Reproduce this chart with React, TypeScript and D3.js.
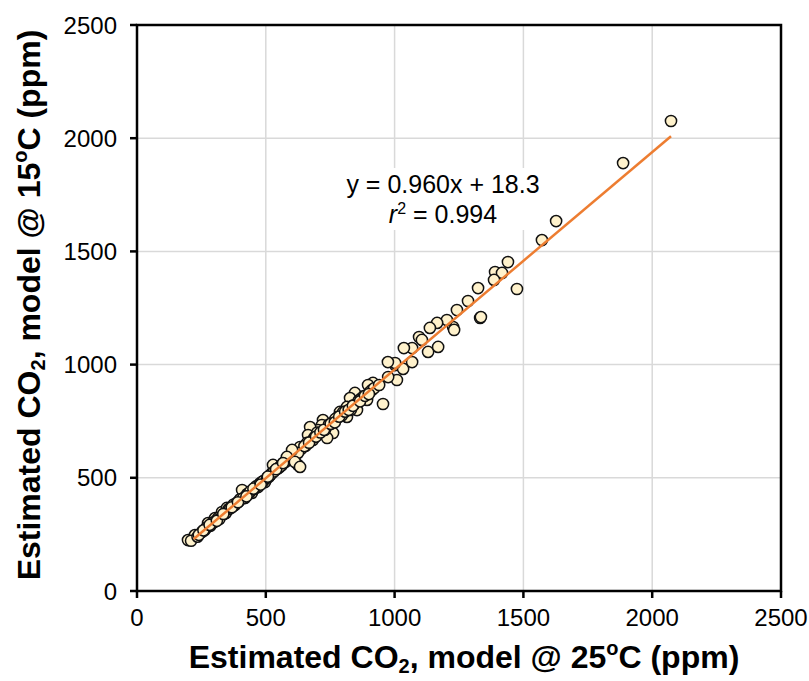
import React from "react";
import * as d3 from "d3";

const xTicks = [0, 500, 1000, 1500, 2000, 2500];
const yTicks = [0, 500, 1000, 1500, 2000, 2500];

// Estimated CO2, model @ 25°C (ppm)
const co2At25 = [
  198, 225, 252, 276, 303, 330, 349, 380, 408, 419, 446, 470, 497, 524, 536, 528, 563, 586, 613, 625, 644,
  210, 235, 240, 262, 270, 285, 292, 300, 315, 320, 338, 345, 356, 362, 370, 375, 388, 395, 400, 412, 428,
  435, 440, 455, 462, 478, 485, 490, 505, 512, 518, 532, 545, 552, 558, 570, 578, 595, 600, 608, 618, 630,
  258, 282, 310, 335, 368, 392, 425, 452, 480, 508, 540, 575, 605, 638, 655,
  1002, 1033, 1009, 955, 916, 897, 912, 893, 846, 854, 827, 815, 788, 780, 815, 722, 718, 749, 761, 738, 703,
  672, 664, 683, 660, 633, 625, 602, 582, 613, 633, 567,
  690, 700, 730, 745, 770, 795, 800, 830, 840, 860, 870, 880, 905, 920, 940, 975,
  650, 668, 695, 712, 726, 752, 768, 785, 808, 822, 838, 866, 885, 900,
  1440, 1390, 1417, 1386, 1324, 1332, 1335, 1285, 1242, 1227, 1231, 1203, 1165, 1137, 1095, 1106, 1068, 1036,
  1130, 1169, 1002, 974, 1068,
  2073, 1887, 1627, 1572, 1475,
];

// Estimated CO2, model @ 15°C (ppm)
const co2At15 = [
  225, 247, 261, 300, 322, 349, 367, 380, 446, 411, 433, 459, 481, 521, 543, 557, 557, 587, 610, 557, 636,
  222, 240, 248, 268, 280, 288, 300, 305, 322, 318, 340, 345, 362, 365, 372, 382, 390, 395, 405, 410, 428,
  432, 440, 450, 462, 476, 482, 485, 500, 505, 512, 528, 540, 545, 552, 566, 572, 590, 590, 600, 612, 620,
  268, 292, 310, 340, 370, 392, 418, 452, 470, 505, 538, 572, 592, 628, 642,
  998, 981, 932, 826, 919, 910, 888, 844, 875, 799, 852, 813, 791, 769, 769, 755, 733, 724, 698, 676, 711,
  724, 689, 667, 654, 636, 610, 623, 592, 570, 548, 565,
  680, 700, 712, 735, 760, 775, 790, 800, 820, 840, 850, 860, 880, 895, 910, 945,
  640, 655, 682, 700, 712, 738, 745, 770, 792, 800, 818, 838, 862, 870,
  1453, 1409, 1405, 1374, 1338, 1206, 1210, 1281, 1241, 1166, 1153, 1197, 1184, 1162, 1122, 1109, 1073, 1073,
  1056, 1078, 1007, 1011, 1011,
  2076, 1890, 1634, 1550, 1334,
];

const slope = 0.96;
const intercept = 18.3;
const fitRange = [220, 2073];

const W = 809;
const H = 681;
const left = 137;
const right = 781;
const top = 25;
const bottom = 591;

export default function App() {
  const x = d3.scaleLinear().domain([0, 2500]).range([left, right]);
  const y = d3.scaleLinear().domain([0, 2500]).range([bottom, top]);
  const pts = co2At25.map((v, i) => [v, co2At15[i]]);
  const line = d3.line<number>()
    .x((d) => x(d))
    .y((d) => y(slope * d + intercept));
  const font = "Arial, 'Liberation Sans', sans-serif";

  return (
    <svg width={W} height={H} style={{ position: "absolute", left: 0, top: 0, background: "#fff" }}>
      <rect width={W} height={H} fill="#fff" />
      {xTicks.slice(1, -1).map((t) => (
        <line key={"gx" + t} x1={x(t)} x2={x(t)} y1={top} y2={bottom} stroke="#d9d9d9" strokeWidth={1.5} />
      ))}
      {yTicks.slice(1, -1).map((t) => (
        <line key={"gy" + t} x1={left} x2={right} y1={y(t)} y2={y(t)} stroke="#d9d9d9" strokeWidth={1.5} />
      ))}
      <rect x={338} y={168} width={210} height={62} fill="#fff" />
      <text x={443} y={193} textAnchor="middle" fontFamily={font} fontSize={25} fill="#000">
        y = 0.960x + 18.3
      </text>
      <text x={443} y={223} textAnchor="middle" fontFamily={font} fontSize={25} fill="#000">
        <tspan fontStyle="italic">r</tspan>
        <tspan fontSize={16} dy={-9}>2</tspan>
        <tspan dy={9}> = 0.994</tspan>
      </text>
      {pts.map((p, i) => (
        <circle key={i} cx={x(p[0])} cy={y(p[1])} r={5.6} fill="#fff2cc" stroke="#111" strokeWidth={1.5} />
      ))}
      <path d={line(fitRange) || ""} fill="none" stroke="#ed7d31" strokeWidth={2.5} />
      <rect x={left} y={top} width={right - left} height={bottom - top} fill="none" stroke="#000" strokeWidth={2.5} />
      {xTicks.map((t) => (
        <g key={"xt" + t}>
          <line x1={x(t)} x2={x(t)} y1={bottom} y2={bottom + 7} stroke="#000" strokeWidth={2.5} />
          <text x={x(t)} y={626} textAnchor="middle" fontFamily={font} fontSize={24} fill="#000">{t}</text>
        </g>
      ))}
      {yTicks.map((t) => (
        <g key={"yt" + t}>
          <line x1={left - 7} x2={left} y1={y(t)} y2={y(t)} stroke="#000" strokeWidth={2.5} />
          <text x={117} y={y(t) + 8.5} textAnchor="end" fontFamily={font} fontSize={24} fill="#000">{t}</text>
        </g>
      ))}
      <text x={464} y={668} textAnchor="middle" fontFamily={font} fontSize={32} fontWeight="bold" fill="#000">
        Estimated CO<tspan fontSize={20} dy={5}>2</tspan>
        <tspan dy={-5}>, model @ 25</tspan>
        <tspan fontSize={20} dy={-13}>o</tspan>
        <tspan dy={13}>C (ppm)</tspan>
      </text>
      <text transform="translate(40,305) rotate(-90)" textAnchor="middle" fontFamily={font} fontSize={32} fontWeight="bold" fill="#000">
        Estimated CO<tspan fontSize={20} dy={5}>2</tspan>
        <tspan dy={-5}>, model @ 15</tspan>
        <tspan fontSize={20} dy={-13}>o</tspan>
        <tspan dy={13}>C (ppm)</tspan>
      </text>
    </svg>
  );
}
